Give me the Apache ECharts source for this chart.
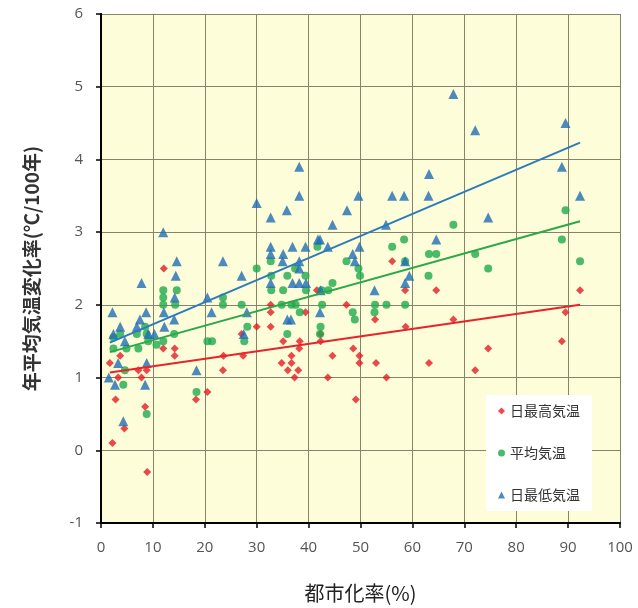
<!DOCTYPE html>
<html><head><meta charset="utf-8">
<script src="https://cdn.jsdelivr.net/npm/echarts@6/dist/echarts.min.js"></script>
<style>html,body{margin:0;padding:0;background:#fff}#c{width:638px;height:608px}</style>
</head><body><div id="c"></div>
<script>
const seriesNames = ['日最高気温', '平均気温', '日最低気温'];
const xTicks = [0,10,20,30,40,50,60,70,80,90,100];
const yTicks = [-1,0,1,2,3,4,5,6];

const maxTemp = [
[2.2,0.1],[2.8,0.7],[4.5,0.3],[1.7,1.2],[3.7,1.3],[3.3,1.0],[7.2,1.1],[8.8,1.1],[7.8,1.0],[8.5,0.6],[8.9,-0.3],
[12.1,2.5],[12.0,1.4],[14.2,1.4],[14.2,1.3],[18.3,0.7],[20.5,0.8],[23.5,1.1],[23.6,1.3],[27.4,1.3],[27.1,1.6],
[30,1.7],[32.7,2.0],[32.7,1.9],[32.7,1.7],[35.1,1.5],[38.3,1.5],[38.2,1.4],[36.7,1.3],[34.8,1.2],[36.7,1.2],
[38,1.1],[36,1.1],[37.3,1.0],[39.4,1.9],[41.6,2.2],[42.3,1.6],[42.3,1.5],[44.6,1.3],[43.7,1.0],[47.3,2.0],
[48.6,1.4],[49.8,1.3],[49.8,1.2],[49.1,0.7],[52.8,1.8],[53,1.2],[55,1.0],[56.1,2.6],[58.6,2.2],[58.7,1.7],
[63.2,1.2],[64.6,2.2],[67.9,1.8],[72.1,1.1],[74.6,1.4],[89.5,1.9],[88.8,1.5],[92.3,2.2]
];
const meanTemp = [
[2.4,1.4],[2.4,1.55],[3.7,1.6],[4.3,0.9],[4.6,1.1],[4.9,1.4],[6.9,1.6],[7.2,1.4],[8.5,1.7],[8.8,1.6],[8.8,0.5],
[9.1,1.5],[10.7,1.45],[12,2.2],[12,2.0],[12,2.1],[12,1.5],[14.1,1.6],[14.3,2.0],[14.6,2.2],[18.4,0.8],[20.5,1.5],
[21.4,1.5],[23.5,2.0],[23.5,2.1],[27.1,2.0],[27.6,1.5],[28.2,1.7],[30,2.5],[32.7,2.6],[32.8,2.4],[32.8,2.2],
[34.8,2.0],[35.1,2.2],[35.9,2.4],[35.9,1.6],[36.7,2.0],[37.5,2.0],[37.4,2.5],[38.3,1.9],[39.4,2.4],[39.5,2.2],
[41.7,2.8],[42.3,1.7],[42.2,1.6],[42.6,2.0],[42.5,2.2],[43.8,2.2],[44.6,2.3],[47.3,2.6],[48.5,1.9],[48.9,1.8],
[49.6,2.5],[49.9,2.4],[52.8,2.0],[52.7,1.9],[55,2.0],[56.1,2.8],[58.4,2.9],[58.6,2.6],[58.6,2.0],[63.1,2.4],
[63.2,2.7],[64.6,2.7],[67.9,3.1],[72.1,2.7],[74.6,2.5],[88.8,2.9],[89.5,3.3],[92.3,2.6]
];
const minTemp = [
[2.2,1.9],[2.4,1.6],[1.5,1.0],[2.7,0.9],[3.3,1.2],[3.7,1.7],[4.6,1.5],[4.3,0.4],[6.9,1.7],[7.5,1.8],[7.8,2.3],
[8.7,1.9],[8.8,1.2],[8.5,0.9],[9.1,1.6],[10.3,1.6],[12,3.0],[12.1,1.9],[12.2,1.7],[14.6,2.6],[14.4,2.4],[14.2,2.1],
[14.1,1.8],[18.4,1.1],[20.5,2.1],[21.3,1.9],[23.5,2.6],[27.1,2.4],[28.1,1.9],[27.5,1.6],[30,3.4],[32.7,3.2],
[32.7,2.8],[32.7,2.7],[32.7,2.3],[35.8,3.3],[35.1,2.7],[35,2.6],[36.9,2.8],[36.9,2.3],[35.9,1.8],[36.6,1.8],
[38.2,3.9],[38.2,3.5],[38.2,2.6],[38.2,2.5],[38.2,2.3],[39.4,2.8],[39.5,2.3],[41.8,2.9],[42.2,2.9],[43.7,2.8],
[42.3,2.2],[42.2,1.9],[44.6,3.1],[47.4,3.3],[49.6,3.5],[48.5,2.7],[48.9,2.6],[49.8,2.8],[52.7,2.2],[54.9,3.1],
[56.1,3.5],[58.4,3.5],[58.6,2.6],[59.4,2.4],[58.6,2.3],[63.2,3.8],[63.1,3.5],[64.6,2.9],[67.9,4.9],[72.1,4.4],
[74.6,3.2],[88.8,3.9],[89.5,4.5],[92.3,3.5]
];
const maxTrend = [[1.7,1.07],[92.3,2.0]];
const meanTrend = [[1.7,1.35],[92.3,3.15]];
const minTrend = [[1.7,1.48],[92.3,4.23]];

const colors = ['#e31b23', '#1ea94c', '#1f6db4'];
const lineColors = ['#e5242b', '#2aa84a', '#2b7bbf'];
const font = '"Noto Sans CJK JP", "Noto Sans", sans-serif';

const chart = echarts.init(document.getElementById('c'));
const scatter = (name, data, symbol, size, color) => ({
  name, type: 'scatter', data, symbol, symbolSize: size,
  itemStyle: { color }, z: 3
});
const trend = (data, color) => ({
  type: 'line', data, symbol: 'none', silent: true,
  lineStyle: { color, width: 2 }, z: 4
});
chart.setOption({
  animation: false,
  grid: { left: 101, right: 18, top: 14, bottom: 84, show: true, backgroundColor: '#fdfdd9', borderWidth: 0 },
  legend: {
    orient: 'vertical', left: 486, top: 395, width: 114, height: 113,
    backgroundColor: '#ffffff', padding: [9, 12, 9, 12], itemGap: 28,
    itemWidth: 7, itemHeight: 7,
    textStyle: { fontFamily: font, fontSize: 14, color: '#333' },
    data: [
      { name: seriesNames[0], icon: 'diamond' },
      { name: seriesNames[1], icon: 'circle' },
      { name: seriesNames[2], icon: 'triangle' }
    ]
  },
  xAxis: {
    type: 'value', min: 0, max: 100, interval: 10,
    name: '都市化率(%)', nameLocation: 'middle', nameGap: 60,
    nameTextStyle: { fontFamily: font, fontSize: 20, color: '#222' },
    axisLine: { show: true, onZero: false, lineStyle: { color: '#000', width: 2 } },
    axisTick: { show: true, length: 5, lineStyle: { color: '#000', width: 1.5 } },
    axisLabel: { margin: 17, fontSize: 15, color: '#555', fontFamily: 'Open Sans, sans-serif',
      formatter: v => xTicks.includes(v) ? String(v) : '' },
    splitLine: { show: true, lineStyle: { color: '#85836a', width: 1 } }
  },
  yAxis: [{
    type: 'value', min: -1, max: 6, interval: 1,
    name: '年平均気温変化率(℃/100年)', nameLocation: 'middle', nameGap: 60,
    nameTextStyle: { fontFamily: font, fontSize: 19, fontWeight: 'bold', color: '#333' },
    axisLine: { show: true, onZero: false, lineStyle: { color: '#000', width: 2 } },
    axisTick: { show: true, length: 5, lineStyle: { color: '#000', width: 1.5 } },
    axisLabel: { margin: 18, fontSize: 15, color: '#555', fontFamily: 'Open Sans, sans-serif',
      formatter: v => yTicks.includes(v) ? String(v) : '' },
    splitLine: { show: true, lineStyle: { color: '#85836a', width: 1 } }
  }, {
    type: 'value', min: -1, max: 6, interval: 1, position: 'right',
    axisLine: { show: true, lineStyle: { color: '#000', width: 2 } },
    axisTick: { show: false }, axisLabel: { show: false }, splitLine: { show: false }
  }],
  series: [
    scatter(seriesNames[0], maxTemp, 'diamond', 8, colors[0]),
    scatter(seriesNames[1], meanTemp, 'circle', 8, colors[1]),
    scatter(seriesNames[2], minTemp, 'triangle', 10, colors[2]),
    trend(maxTrend, lineColors[0]),
    trend(meanTrend, lineColors[1]),
    trend(minTrend, lineColors[2])
  ]
});
</script></body></html>
